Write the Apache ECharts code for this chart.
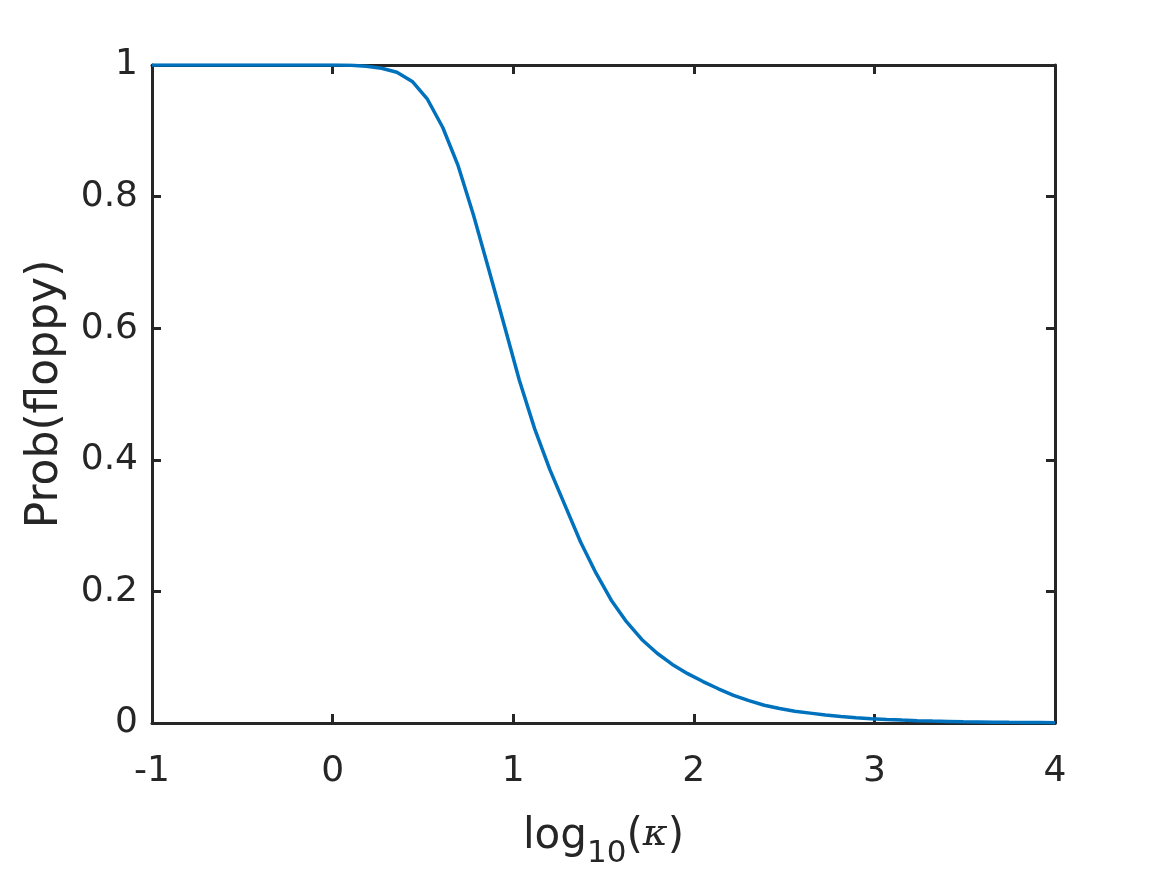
<!DOCTYPE html>
<html>
<head>
<meta charset="utf-8">
<script src="https://cdn.jsdelivr.net/npm/echarts@6/dist/echarts.min.js"></script>
<style>html,body{margin:0;padding:0;background:#fff;}#c{width:1167px;height:875px;}</style>
</head>
<body>
<div id="c"></div>
<script>
const logKappa = [-1.000,-0.915,-0.831,-0.746,-0.661,-0.576,-0.492,-0.407,-0.322,-0.237,
  -0.153,-0.068,0.017,0.102,0.186,0.271,0.356,0.441,0.525,0.610,
  0.695,0.780,0.864,0.949,1.034,1.119,1.203,1.288,1.373,1.458,
  1.542,1.627,1.712,1.797,1.881,1.966,2.051,2.136,2.220,2.305,
  2.390,2.475,2.559,2.644,2.729,2.814,2.898,2.983,3.068,3.153,
  3.237,3.322,3.407,3.492,3.576,3.661,3.746,3.831,3.915,4.000];
// Prob(floppy)
const probFloppy = [1,1,1,1,1,1,1,1,1,1,
  1,1,0.9999,0.9995,0.998,0.995,0.989,0.975,0.948,0.905,
  0.847,0.772,0.690,0.606,0.521,0.447,0.385,0.330,0.275,0.228,
  0.187,0.154,0.127,0.106,0.089,0.075,0.063,0.052,0.042,0.034,
  0.027,0.022,0.018,0.015,0.012,0.0098,0.0080,0.0066,0.0054,0.0044,
  0.0036,0.0029,0.0024,0.0019,0.0016,0.0013,0.0010,0.0008,0.0007,0.0005];
const xTicks = [-1,0,1,2,3,4];
const yTicks = [0,0.2,0.4,0.6,0.8,1];

const axisColor = '#262626';
const font = '"DejaVu Sans", "Liberation Sans", Arial, sans-serif';
const chart = echarts.init(document.getElementById('c'));
const seriesData = logKappa.map((x,i)=>[x, probFloppy[i]]);

const lineStyleAxis = {show:true, onZero:false, lineStyle:{color:axisColor, width:3}};
const tickStyle = {show:true, inside:true, length:9, lineStyle:{color:axisColor, width:3}};

chart.setOption({
  animation:false,
  backgroundColor:'#fff',
  grid:{left:152, right:112, top:65, bottom:152, containLabel:false},
  xAxis:[{
    type:'value', min:xTicks[0], max:xTicks[xTicks.length-1], interval:1,
    axisLine:lineStyleAxis, axisTick:tickStyle, splitLine:{show:false},
    axisLabel:{color:axisColor, fontSize:36, fontFamily:font, margin:31,
      formatter:v=>String(v)},
    name:'{a|log}{s|10}{a|(}{k|κ}{a|)}', nameLocation:'middle', nameGap:76,
    nameTextStyle:{color:axisColor, fontFamily:font,
      rich:{
        a:{fontSize:42, fontFamily:font, color:axisColor, verticalAlign:'top', lineHeight:50},
        s:{fontSize:31, fontFamily:font, color:axisColor, verticalAlign:'bottom', lineHeight:32, padding:[44,0,0,0]},
        k:{fontSize:38, fontFamily:'"DejaVu Serif", serif', fontStyle:'italic', color:axisColor, verticalAlign:'top', lineHeight:54}
      }}
  },{
    type:'value', position:'top', min:xTicks[0], max:xTicks[xTicks.length-1], interval:1,
    axisLine:lineStyleAxis, axisTick:tickStyle, axisLabel:{show:false}, splitLine:{show:false}
  }],
  yAxis:[{
    type:'value', min:yTicks[0], max:yTicks[yTicks.length-1], interval:0.2,
    axisLine:lineStyleAxis, axisTick:tickStyle, splitLine:{show:false},
    axisLabel:{color:axisColor, fontSize:36, fontFamily:font, margin:14,
      formatter:v=>String(Math.round(v*10)/10)},
    name:'Prob(floppy)', nameLocation:'middle', nameGap:84,
    nameTextStyle:{color:axisColor, fontSize:44, fontFamily:font}
  },{
    type:'value', position:'right', min:yTicks[0], max:yTicks[yTicks.length-1], interval:0.2,
    axisLine:lineStyleAxis, axisTick:tickStyle, axisLabel:{show:false}, splitLine:{show:false}
  }],
  series:[{
    type:'line', data:seriesData, showSymbol:false, smooth:false,
    lineStyle:{color:'#0072BD', width:3.5}, itemStyle:{color:'#0072BD'}
  }]
});
</script>
</body>
</html>
